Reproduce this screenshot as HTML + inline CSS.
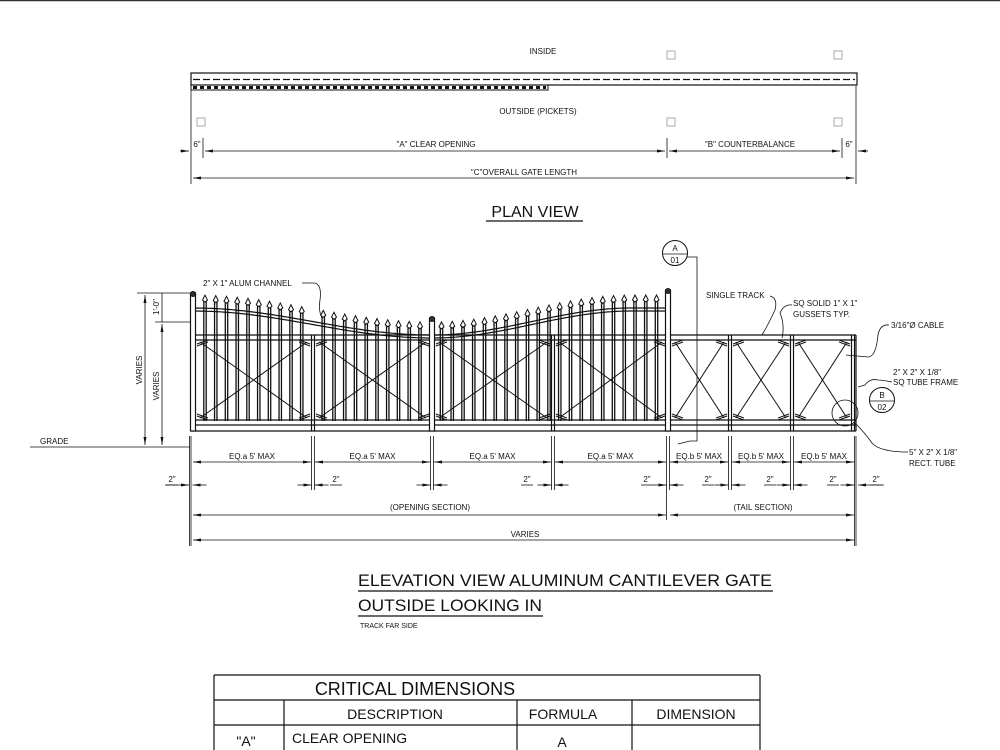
<!DOCTYPE html>
<html><head><meta charset="utf-8">
<style>
html,body{margin:0;padding:0;background:#fff;}
svg{display:block;}
text{font-family:"Liberation Sans",Arial,sans-serif;fill:#111;}
</style></head>
<body>
<svg id="s" width="1000" height="750" viewBox="0 0 1000 750" xmlns="http://www.w3.org/2000/svg">
<defs>
<marker id="ar" markerWidth="8" markerHeight="6" refX="8" refY="3" orient="auto-start-reverse" markerUnits="userSpaceOnUse"><path d="M0,1.5 L8,3 L0,4.5 z" fill="#111"/></marker>
</defs>
<line x1="0" y1="0.5" x2="1000" y2="0.5" stroke="#333" stroke-width="1.5"/>

<!-- PLAN VIEW -->
<g stroke="#111" fill="none">
<rect x="191" y="73" width="666" height="12" stroke-width="1.2"/>
<line x1="193" y1="79.5" x2="855" y2="79.5" stroke-dasharray="7,3" stroke-width="1.2"/>
<rect x="191" y="85" width="357" height="5" stroke-width="1"/>
<line x1="193" y1="87.5" x2="546" y2="87.5" stroke-dasharray="4,3" stroke-width="3"/>
</g>
<g fill="none" stroke="#aaa" stroke-width="1">
<rect x="667" y="51" width="8" height="8"/><rect x="834" y="51" width="8" height="8"/>
<rect x="197" y="118" width="8" height="8"/><rect x="667" y="118" width="8" height="8"/><rect x="834" y="118" width="8" height="8"/>
</g>
<text x="543" y="54" font-size="8" text-anchor="middle">INSIDE</text>
<text x="538" y="114" font-size="8" text-anchor="middle">OUTSIDE (PICKETS)</text>
<g stroke="#111" stroke-width="0.8">
<line x1="191" y1="90" x2="191" y2="184"/><line x1="856" y1="86" x2="856" y2="184"/>
<line x1="203" y1="138" x2="203" y2="158"/><line x1="667" y1="138" x2="667" y2="158"/><line x1="842" y1="138" x2="842" y2="158"/>
<line x1="205" y1="151" x2="665" y2="151" marker-start="url(#ar)" marker-end="url(#ar)"/>
<line x1="669" y1="151" x2="840" y2="151" marker-start="url(#ar)" marker-end="url(#ar)"/>
<line x1="180" y1="151" x2="189" y2="151" marker-end="url(#ar)"/>
<line x1="868" y1="151" x2="858" y2="151" marker-end="url(#ar)"/>
<line x1="193" y1="178" x2="854" y2="178" marker-start="url(#ar)" marker-end="url(#ar)"/>
</g>
<text x="197" y="147" font-size="8" text-anchor="middle">6"</text>
<text x="849" y="147" font-size="8" text-anchor="middle">6"</text>
<text x="436" y="147" font-size="8" text-anchor="middle">"A" CLEAR OPENING</text>
<text x="750" y="147" font-size="8" text-anchor="middle">"B" COUNTERBALANCE</text>
<text x="524" y="175" font-size="8" text-anchor="middle">"C"OVERALL GATE LENGTH</text>
<text x="535" y="217" font-size="16" text-anchor="middle">PLAN VIEW</text>
<line x1="486" y1="221" x2="583" y2="221" stroke="#111" stroke-width="1.2"/>

<!-- ELEVATION -->
<g id="gate" stroke="#111" fill="none"></g>

<!-- left dims -->
<g stroke="#111" stroke-width="0.8">
<line x1="137" y1="293" x2="190" y2="293"/>
<line x1="155" y1="322" x2="190" y2="322"/>
<line x1="30" y1="447" x2="190" y2="447"/>
<line x1="145" y1="295" x2="145" y2="445" marker-start="url(#ar)" marker-end="url(#ar)"/>
<line x1="162" y1="324" x2="162" y2="445" marker-start="url(#ar)" marker-end="url(#ar)"/>
<line x1="162" y1="293" x2="162" y2="322"/>
</g>
<text transform="translate(142,370) rotate(-90)" font-size="8" text-anchor="middle">VARIES</text>
<text transform="translate(159,386) rotate(-90)" font-size="8" text-anchor="middle">VARIES</text>
<text transform="translate(159,307) rotate(-90)" font-size="8" text-anchor="middle">1'-0"</text>
<text x="40" y="444" font-size="8">GRADE</text>

<!-- labels -->
<text x="203" y="286" font-size="8">2" X 1" ALUM CHANNEL</text>
<path d="M302,283 L315,283 Q322,285 320,300 Q318,310 322,318" stroke="#111" fill="none" stroke-width="0.8"/>
<circle cx="675" cy="253" r="12.5" stroke="#111" fill="#fff" stroke-width="1"/>
<line x1="663" y1="254" x2="687" y2="254" stroke="#111" stroke-width="0.8"/>
<text x="675" y="251" font-size="8" text-anchor="middle">A</text>
<text x="675" y="263" font-size="8" text-anchor="middle">01</text>
<path d="M687,257 L697,257 L697,441 L690,441 L678,444" stroke="#111" fill="none" stroke-width="0.8"/>
<text x="706" y="298" font-size="8">SINGLE TRACK</text>
<path d="M770,296 Q778,298 775,310 Q768,325 762,335" stroke="#111" fill="none" stroke-width="0.8"/>
<text x="793" y="306" font-size="8">SQ SOLID 1" X 1"</text>
<text x="793" y="317" font-size="8">GUSSETS TYP.</text>
<path d="M792,305 Q784,304 780,313 Q785,325 782,338" stroke="#111" fill="none" stroke-width="0.8"/>
<text x="891" y="328" font-size="8">3/16"Ø CABLE</text>
<path d="M889,325 Q880,324 878,335 Q876,357 868,357 L846,355" stroke="#111" fill="none" stroke-width="0.8"/>
<text x="893" y="375" font-size="8">2" X 2" X 1/8"</text>
<text x="893" y="385" font-size="8">SQ TUBE FRAME</text>
<path d="M892,382 Q882,380 878,380 Q870,378 865,385 L858,387" stroke="#111" fill="none" stroke-width="0.8"/>
<circle cx="882" cy="400" r="12.5" stroke="#111" fill="#fff" stroke-width="1"/>
<line x1="870" y1="401" x2="894" y2="401" stroke="#111" stroke-width="0.8"/>
<text x="882" y="398" font-size="8" text-anchor="middle">B</text>
<text x="882" y="410" font-size="8" text-anchor="middle">02</text>
<circle cx="845" cy="413" r="13" stroke="#111" fill="none" stroke-width="0.8"/>
<path d="M855,423 Q865,433 872,443 Q880,452 908,452" stroke="#111" fill="none" stroke-width="0.8"/>
<text x="909" y="455" font-size="8">5" X 2" X 1/8"</text>
<text x="909" y="466" font-size="8">RECT. TUBE</text>

<!-- bottom dims -->
<g id="dims" stroke="#111" stroke-width="0.8" fill="none"></g>
<text x="430" y="510" font-size="8" text-anchor="middle">(OPENING SECTION)</text>
<text x="763" y="510" font-size="8" text-anchor="middle">(TAIL SECTION)</text>
<text x="525" y="537" font-size="8" text-anchor="middle">VARIES</text>

<!-- titles -->
<text x="358" y="586" font-size="17" textLength="414" lengthAdjust="spacingAndGlyphs">ELEVATION VIEW ALUMINUM CANTILEVER GATE</text>
<line x1="358" y1="591" x2="773" y2="591" stroke="#111" stroke-width="1.3"/>
<text x="358" y="611" font-size="17" textLength="184" lengthAdjust="spacingAndGlyphs">OUTSIDE LOOKING IN</text>
<line x1="358" y1="616" x2="543" y2="616" stroke="#111" stroke-width="1.3"/>
<text x="360" y="628" font-size="7">TRACK FAR SIDE</text>

<!-- table -->
<g stroke="#111" stroke-width="1.2" fill="none">
<line x1="214" y1="675" x2="760" y2="675"/>
<line x1="214" y1="675" x2="214" y2="750"/>
<line x1="760" y1="675" x2="760" y2="750"/>
<line x1="214" y1="700" x2="760" y2="700"/>
<line x1="214" y1="725" x2="760" y2="725"/>
<line x1="284" y1="700" x2="284" y2="750"/>
<line x1="517" y1="700" x2="517" y2="750"/>
<line x1="632" y1="700" x2="632" y2="750"/>
</g>
<text x="415" y="695" font-size="18" text-anchor="middle">CRITICAL DIMENSIONS</text>
<text x="395" y="719" font-size="14" text-anchor="middle">DESCRIPTION</text>
<text x="563" y="719" font-size="14" text-anchor="middle">FORMULA</text>
<text x="696" y="719" font-size="14" text-anchor="middle">DIMENSION</text>
<text x="246" y="746" font-size="14" text-anchor="middle">"A"</text>
<text x="292" y="743" font-size="14">CLEAR OPENING</text>
<text x="562" y="747" font-size="14" text-anchor="middle">A</text>
</svg>
<script>
(function(){
var NS="http://www.w3.org/2000/svg";
var g=document.getElementById('gate'), d=document.getElementById('dims');
function el(p,tag,a){var e=document.createElementNS(NS,tag);for(var k in a)e.setAttribute(k,a[k]);p.appendChild(e);return e;}
function L(p,x1,y1,x2,y2,w,extra){var a={x1:x1,y1:y1,x2:x2,y2:y2,'stroke-width':w||1};if(extra)for(var k in extra)a[k]=extra[k];return el(p,'line',a);}
function cy(x){if(x<=432){return 308+27*(1-Math.cos(Math.PI*(x-193)/239))/2;}return 335-27*(1-Math.cos(Math.PI*Math.min(1,(x-432)/200)))/2;}
for(var x=205;x<664;x+=10.75){
  if(Math.abs(x-313)<4||Math.abs(x-432)<4||Math.abs(x-553)<4)continue;
  var t=cy(x)-12;
  L(g,x-1.2,t+5,x-1.2,421,1.3);L(g,x+1.2,t+5,x+1.2,421,1.3);
  el(g,'path',{d:'M'+(x)+','+(t-1)+' L'+(x+2.5)+','+(t+4)+' L'+x+','+(t+6)+' L'+(x-2.5)+','+(t+4)+' Z','stroke-width':1,fill:'#fff'});
}
var dd='',dd2='';for(var x=196;x<=668;x+=4){dd+=(x==196?'M':'L')+x+','+cy(x).toFixed(1);dd2+=(x==196?'M':'L')+x+','+(cy(x)+3).toFixed(1);}
el(g,'path',{d:dd,'stroke-width':1.2});el(g,'path',{d:dd2,'stroke-width':1.2});
[[335],[340],[420],[425]].forEach(function(r){L(g,193,r[0],856,r[0],1.2);});
L(g,191,431,856,431,1.2);L(g,191,425,191,431,1.2);L(g,856,335,856,431,1.2);
[[193,293],[432,318],[668,290]].forEach(function(p){el(g,'rect',{x:p[0]-2.5,y:p[1],width:5,height:431-p[1],'stroke-width':1.2,fill:'#fff'});el(g,'circle',{cx:p[0],cy:p[1]+1,r:2.5,'stroke-width':1,fill:'#333'});});
[313,553,730,792,853].forEach(function(x){L(g,x-1.5,335,x-1.5,431,1.2);L(g,x+1.5,335,x+1.5,431,1.2);});
var bays=[[196,311],[315,430],[435,551],[555,666],[671,728],[732,790],[794,851]];
bays.forEach(function(b){var a=b[0]+4,c=b[1]-4;L(g,a,342,c,418,1);L(g,a,418,c,342,1);
  [[b[0]+1,345,a+8,341],[b[1]-1,345,c-8,341],[b[0]+1,415,a+8,419],[b[1]-1,415,c-8,419]].forEach(function(q){L(g,q[0],q[1]-1,q[2],q[3]-1,1);L(g,q[0],q[1]+1,q[2],q[3]+1,1);});});
var posts=[191,313,432,553,668,730,792,856];
posts.forEach(function(x,i){var y2=(i==0||i==7)?546:490;if(i==4)y2=520;L(d,x-1.5,436,x-1.5,y2,0.8);if(i!=0&&i!=7){L(d,x+1.5,436,x+1.5,490,0.8);}});
L(d,191,436,191,546,0.8);L(d,856,436,856,546,0.8);
for(var i=0;i<7;i++){var a=posts[i]+2,b=posts[i+1]-2;L(d,a,462,b,462,0.8,{'marker-start':'url(#ar)','marker-end':'url(#ar)'});
 var lbl=i<4?'EQ.a 5\' MAX':'EQ.b 5\' MAX';var t=el(document.getElementById('s'),'text',{x:(a+b)/2,y:459,'font-size':8,'text-anchor':'middle'});t.textContent=lbl;}
function two(x,dir){L(d,x+dir*14,485,x,485,0.8,{'marker-end':'url(#ar)'});}
posts.forEach(function(x,i){if(i>0)two(x-1.5,-1);if(i<7)two(x+1.5,1);});
L(d,165,485,189,485,0.8,{'marker-end':'url(#ar)'});L(d,884,485,858,485,0.8,{'marker-end':'url(#ar)'});
[172,336,527,647,708,770,833,876].forEach(function(x){var t=el(document.getElementById('s'),'text',{x:x,y:482,'font-size':8,'text-anchor':'middle'});t.textContent='2"';L(d,x-6,485,x+6,485,0.8);});
L(d,193,515,666,515,0.8,{'marker-start':'url(#ar)','marker-end':'url(#ar)'});
L(d,670,515,854,515,0.8,{'marker-start':'url(#ar)','marker-end':'url(#ar)'});
L(d,193,540,854,540,0.8,{'marker-start':'url(#ar)','marker-end':'url(#ar)'});
})();
</script>
</body></html>
